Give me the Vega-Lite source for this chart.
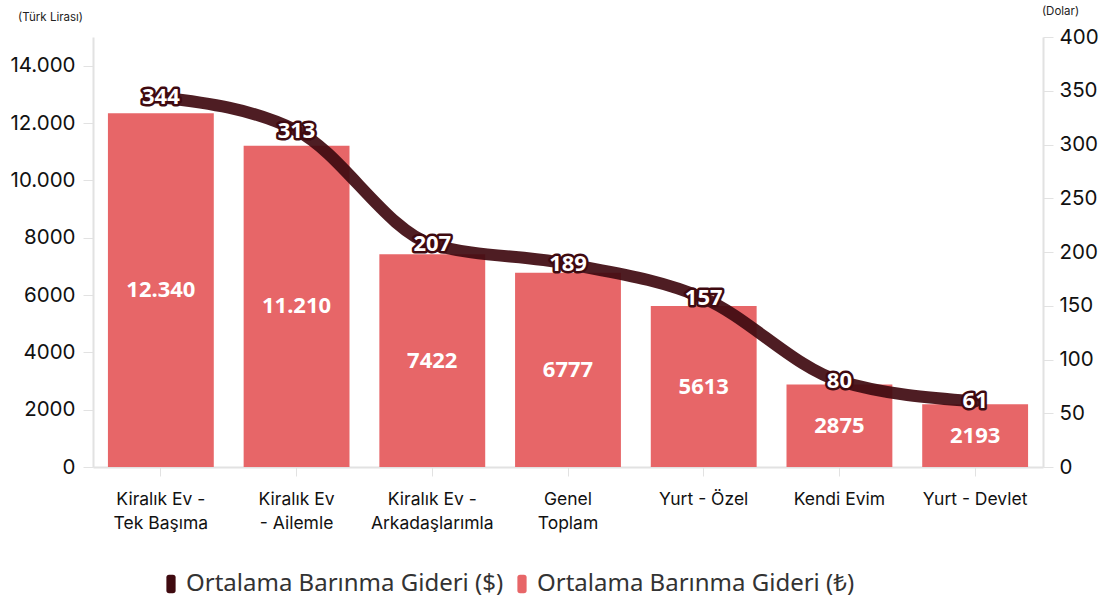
{
  "$schema": "https://vega.github.io/schema/vega-lite/v6.json",
  "width": 950,
  "height": 430,
  "autosize": {"type": "none"},
  "padding": {"left": 93, "top": 37, "right": 59, "bottom": 137},
  "background": "white",
  "data": {
    "values": [
      {"kategori": "Kiralık Ev - Tek Başıma", "tl": 12340, "usd": 344},
      {"kategori": "Kiralık Ev - Ailemle", "tl": 11210, "usd": 313},
      {"kategori": "Kiralık Ev - Arkadaşlarımla", "tl": 7422, "usd": 207},
      {"kategori": "Genel Toplam", "tl": 6777, "usd": 189},
      {"kategori": "Yurt - Özel", "tl": 5613, "usd": 157},
      {"kategori": "Kendi Evim", "tl": 2875, "usd": 80},
      {"kategori": "Yurt - Devlet", "tl": 2193, "usd": 61}
    ]
  },
  "transform": [
    {"calculate": "datum.tl >= 10000 ? replace(format(datum.tl, ','), ',', '.') : toString(datum.tl)", "as": "tlLabel"},
    {"calculate": "datum.tl / 2", "as": "tlMid"}
  ],
  "config": {
    "view": {"stroke": null},
    "font": "Inter",
    "axis": {"grid": false, "domainColor": "#e2e2e2", "tickColor": "#e2e2e2", "labelColor": "#111", "titleColor": "#222", "titleFontWeight": "normal"}
  },
  "encoding": {
    "x": {
      "field": "kategori",
      "type": "nominal",
      "sort": null,
      "scale": {"paddingInner": 0.22, "paddingOuter": 0.11},
      "axis": {
        "title": null,
        "labelAngle": 0,
        "labelFontSize": 17.5,
        "labelLineHeight": 24,
        "labelPadding": 14,
        "tickSize": 9,
        "domainWidth": 2,
        "labelExpr": "datum.value == 'Kiralık Ev - Tek Başıma' ? ['Kiralık Ev -', 'Tek Başıma'] : datum.value == 'Kiralık Ev - Ailemle' ? ['Kiralık Ev', '- Ailemle'] : datum.value == 'Kiralık Ev - Arkadaşlarımla' ? ['Kiralık Ev -', 'Arkadaşlarımla'] : datum.value == 'Genel Toplam' ? ['Genel', 'Toplam'] : datum.value"
      }
    }
  },
  "layer": [
    {
      "layer": [
        {
          "mark": {"type": "bar", "color": "#e76668"},
          "encoding": {
            "y": {
              "field": "tl",
              "type": "quantitative",
              "scale": {"domain": [0, 15000], "nice": false},
              "axis": {
                "title": "(Türk Lirası)",
                "titleAngle": 0,
                "titleFontSize": 11.5,
                "titleX": -43,
                "titleY": -20,
                "titleAlign": "center",
                "titleBaseline": "middle",
                "values": [0, 2000, 4000, 6000, 8000, 10000, 12000, 14000],
                "labelExpr": "datum.value >= 10000 ? replace(format(datum.value, ','), ',', '.') : toString(datum.value)",
                "labelFontSize": 20.5,
                "labelPadding": 8,
                "tickSize": 10,
                "domainWidth": 2
              }
            },
            "color": {
              "datum": "Ortalama Barınma Gideri (₺)",
              "type": "nominal",
              "scale": {
                "domain": ["Ortalama Barınma Gideri ($)", "Ortalama Barınma Gideri (₺)"],
                "range": ["#3f0a10", "#e76668"]
              },
              "legend": {
                "title": null,
                "orient": "none",
                "direction": "horizontal",
                "legendX": 66,
                "legendY": 535,
                "labelFontSize": 24,
                "labelFont": "Noto Sans",
                "labelColor": "#333",
                "labelLimit": 0,
                "symbolType": "M-0.5,-0.7 Q-0.5,-1 -0.2,-1 L0.2,-1 Q0.5,-1 0.5,-0.7 L0.5,0.7 Q0.5,1 0.2,1 L-0.2,1 Q-0.5,1 -0.5,0.7 Z",
                "symbolSize": 340,
                "symbolStrokeWidth": 0,
                "columnPadding": 6,
                "labelOffset": 3,
                "encode": {"symbols": {"update": {"fill": {"scale": "color", "field": "value"}, "fillOpacity": {"value": 1}, "strokeWidth": {"value": 0}}}}
              }
            }
          }
        },
        {
          "mark": {"type": "text", "color": "white", "fontSize": 22, "fontWeight": "bold", "font": "Noto Sans", "baseline": "middle"},
          "encoding": {
            "y": {"field": "tlMid", "type": "quantitative"},
            "text": {"field": "tlLabel"}
          }
        }
      ]
    },
    {
      "layer": [
        {
          "mark": {"type": "line", "interpolate": "monotone", "strokeWidth": 12, "opacity": 0.92, "strokeCap": "round"},
          "encoding": {
            "y": {
              "field": "usd",
              "type": "quantitative",
              "scale": {"domain": [0, 400], "nice": false},
              "axis": {
                "orient": "right",
                "title": "(Dolar)",
                "titleAngle": 0,
                "titleFontSize": 11.5,
                "titleX": 17,
                "titleY": -26,
                "titleAlign": "center",
                "titleBaseline": "middle",
                "values": [0, 50, 100, 150, 200, 250, 300, 350, 400],
                "labelFontSize": 20.5,
                "labelPadding": 6,
                "tickSize": 10,
                "domainWidth": 2
              }
            },
            "color": {"datum": "Ortalama Barınma Gideri ($)", "type": "nominal"}
          }
        },
        {
          "mark": {"type": "text", "fill": "white", "stroke": "#3f0a10", "strokeWidth": 5, "strokeJoin": "round", "fontSize": 22, "fontWeight": "bold", "font": "Noto Sans", "baseline": "middle"},
          "encoding": {
            "y": {"field": "usd", "type": "quantitative"},
            "text": {"field": "usd"}
          }
        },
        {
          "mark": {"type": "text", "fill": "white", "fontSize": 22, "fontWeight": "bold", "font": "Noto Sans", "baseline": "middle"},
          "encoding": {
            "y": {"field": "usd", "type": "quantitative"},
            "text": {"field": "usd"}
          }
        }
      ]
    }
  ],
  "resolve": {"scale": {"y": "independent"}}
}
